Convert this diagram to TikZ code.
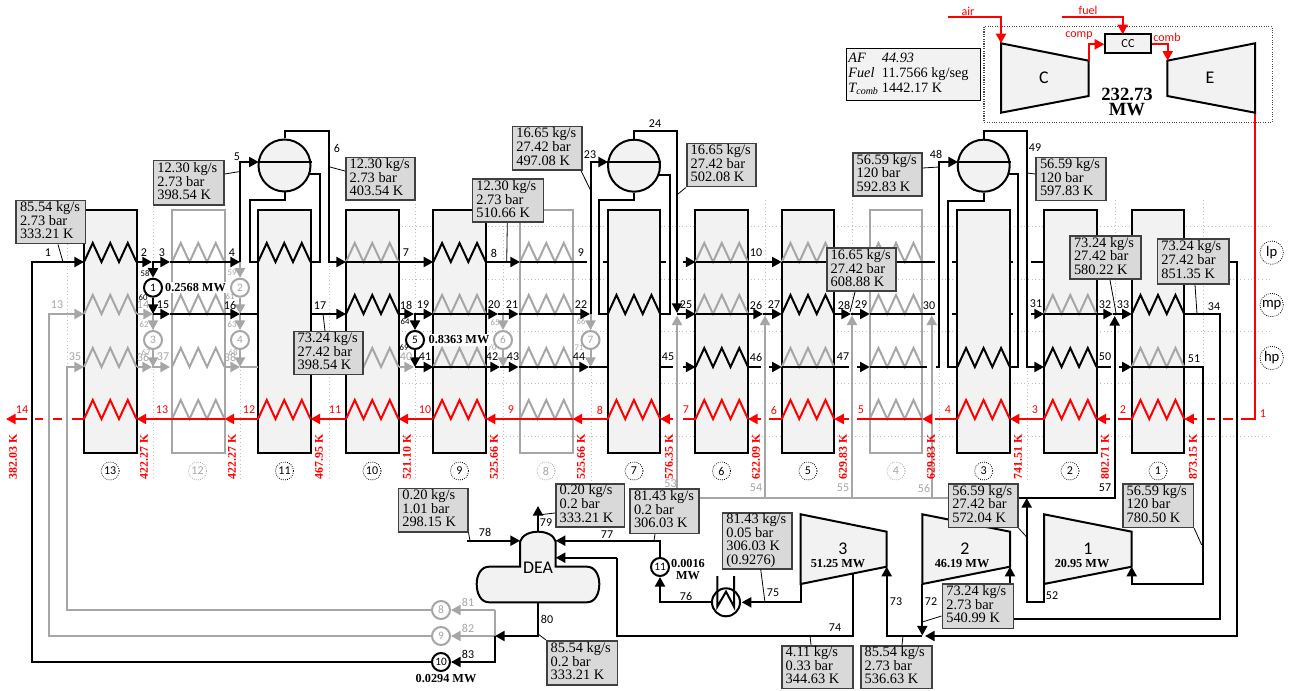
\documentclass[tikz,border=0pt]{standalone}
\usepackage{fontspec}
\setmainfont{Liberation Serif}
\newfontfamily\calf{Carlito}
\usetikzlibrary{arrows.meta,calc}
\definecolor{gry}{HTML}{A6A6A6}
\definecolor{dotg}{HTML}{BFBFBF}
\definecolor{boxf}{HTML}{F2F2F2}
\definecolor{valf}{HTML}{D9D9D9}
\definecolor{valb}{HTML}{404040}
\tikzset{
  tp/.tip={Triangle[length=7.2pt,width=7.5pt]},
  blk/.style={draw=black,line width=1.5pt,line join=miter},
  gr/.style={draw=gry,line width=1.5pt,line join=miter},
  rd/.style={draw=red,line width=1.5pt,line join=miter},
  dots/.style={draw=dotg,line width=.7pt,dotted},
  lead/.style={draw=black,line width=.6pt},
  colbox/.style={draw=black,fill=boxf,line width=1.5pt,minimum width=39.4pt,minimum height=182pt,inner sep=0pt},
  colgray/.style={draw=gry,line width=1.5pt,minimum width=39.4pt,minimum height=182pt,inner sep=0pt},
  drum/.style={circle,draw=black,fill=boxf,line width=1.5pt,minimum size=39pt,inner sep=0pt},
  pump/.style={circle,draw=black,fill=white,line width=1.5pt,minimum size=13.5pt,inner sep=0pt,font=\calf\fontsize{8.5pt}{9pt}\selectfont},
  pumpg/.style={pump,draw=gry,text=gry},
  valbox/.style={draw=valb,fill=valf,line width=1.2pt,inner sep=0pt,font=\fontsize{10.8pt}{9.75pt}\selectfont},
  lab/.style={inner sep=0pt,font=\calf\fontsize{9pt}{9pt}\selectfont},
  slab/.style={inner sep=0pt,font=\calf\fontsize{6.5pt}{7pt}\selectfont},
  temp/.style={inner sep=0pt,rotate=90,text=red,font=\bfseries\fontsize{8.9pt}{9pt}\selectfont},
  pow/.style={inner sep=0pt,align=center,font=\bfseries\fontsize{9.2pt}{9pt}\selectfont},
  circnum/.style={circle,draw=black,densely dotted,line width=.6pt,minimum size=13.5pt,inner sep=0pt,font=\calf\fontsize{9pt}{9pt}\selectfont},
  bigt/.style={inner sep=0pt,font=\calf\fontsize{13.4pt}{14pt}\selectfont},
  unit/.style={draw=black,fill=boxf,line width=1.5pt,line join=miter},
}
\newcommand\zigz[3]{\draw[#3] (#1,#2) -- ++(8.75,-19) -- ++(8.75,19) -- ++(8.75,-19) -- ++(8.75,19) -- ++(8.75,-19) -- ++(8.75,19);}
\newcommand\vb[6]{%
  \pgfmathsetmacro\vbw{(#4-#2)*0.75}%
  \pgfmathsetmacro\vbt{(#4-#2)*0.75-6}%
  \pgfmathsetmacro\vbh{(#5-#3)*0.75}%
  \node[valbox,minimum width=\vbw pt,minimum height=\vbh pt] (#1) at ({(#2+#4)/2},{(#3+#5)/2}) {\makebox[\vbt pt][l]{\begin{tabular}{@{}l@{}}#6\end{tabular}}};}
\begin{document}
\begin{tikzpicture}[x=0.75pt,y=-0.75pt]
\useasboundingbox (0,0) rectangle (1289,691);
% named anchors on the four tube rows of each section
\foreach \n/\x in {13/84,12/172,11/258,10/346,9/433.3,8/520,7/607.7,6/695.5,5/781.7,4/869.7,3/957.3,2/1044,1/1131.7}{
  \pgfmathsetmacro\xr{\x+52.5}
  \coordinate (L\n a) at (\x,262); \coordinate (R\n a) at (\xr,262);
  \coordinate (L\n b) at (\x,314); \coordinate (R\n b) at (\xr,314);
  \coordinate (L\n c) at (\x,367); \coordinate (R\n c) at (\xr,367);
  \coordinate (L\n d) at (\x,419); \coordinate (R\n d) at (\xr,419);
}
% dotted guides
\foreach \y in {226.7,279.3,331,383.3,436}{\draw[dots] (398,\y) -- (1272,\y);}
\foreach \x/\a/\b in {67/244/367,153.5/207/480,240/262/480,329/262/480,415/200/480,503/222/480,591/314/480,765/200/497,852/200/497,939/200/480,1027/367/480,1115/200/316,1203/200/367}{\draw[dots] (\x,\a) -- (\x,\b);}
% gray sections
\foreach \n/\x in {12/172,8/520,4/869.7}{
  \node[colgray] (col\n) at ({\x+26.25},331.35) {};
}
% filled sections
\foreach \n/\x in {13/84,11/258,10/346,9/433.3,7/607.7,6/695.5,5/781.7,3/957.3,2/1044,1/1131.7}{
  \node[colbox] (col\n) at ({\x+26.25},331.35) {};
}
% coils
\foreach \n/\r in {13/a,11/a,9/a, 10/b,7/b,5/b,1/b, 6/c,3/c,2/c}{\path (L\n\r); \pgfgetlastxy{\px}{\py}\pgfmathsetmacro\cx{\px/0.75}\pgfmathsetmacro\cy{-\py/0.75}\zigz{\cx}{\cy}{blk}}
\foreach \n/\r in {12/a,10/a,6/a,5/a,8/a,4/a, 13/b,12/b,9/b,8/b,6/b,4/b,2/b, 13/c,12/c,10/c,9/c,8/c,5/c,4/c,1/c, 12/d,8/d,4/d}{\path (L\n\r); \pgfgetlastxy{\px}{\py}\pgfmathsetmacro\cx{\px/0.75}\pgfmathsetmacro\cy{-\py/0.75}\zigz{\cx}{\cy}{gr}}
\foreach \n in {13,11,10,9,7,6,5,3,2,1}{\path (L\n d); \pgfgetlastxy{\px}{\py}\pgfmathsetmacro\cx{\px/0.75}\pgfmathsetmacro\cy{-\py/0.75}\zigz{\cx}{\cy}{rd}}
% drums and pumps
\node[drum] (d1) at (284.5,165.5) {};
\node[drum] (d2) at (634,165.7) {};
\node[drum] (d3) at (983.7,165.7) {};
\foreach \d in {d1,d2,d3}{\draw[blk] (\d.west |- 0,162) -- (\d.east |- 0,162);}
\node[pump] (p1) at (153,287.7) {1};
\node[pumpg] (p2) at (240,287.7) {2};
\node[pumpg] (p3) at (153,340) {3};
\node[pumpg] (p4) at (240,340) {4};
\node[pump] (p5) at (415,340) {5};
\node[pumpg] (p6) at (503,340) {6};
\node[pumpg] (p7) at (590.5,340) {7};
\node[pumpg] (p8) at (441,610) {8};
\node[pumpg] (p9) at (441,636) {9};
\node[pump] (p10) at (441,662) {10};
\node[pump] (p11) at (660,567) {11};
% gray connectors
\draw[gr,-{tp}] (p8.west) -- (67,610) -- (67,367) -- (L13c);
\draw[gr,-{tp}] (p9.west) -- (49,636) -- (49,314) -- (L13b);
\draw[gr,-{tp}] (R13b) -- (153,314);
\draw[gr,-{tp}] (R13c) -- (152,367);
\draw[gr,-{tp}] (152,367) -- (170,367);
\draw[gr,-{tp}] (R12c) -- (240,367);
\draw[gr] (240,367) -- (L11c);
\draw[gr] (R11c) -- (L10c);
\draw[gr,-{tp}] (R10c) -- (414,367);
\draw[gr,-{tp}] (153,314) -- (p3.north);
\draw[gr,-{tp}] (p3.south) -- (153,367);
\draw[gr,-{tp}] (240,262) -- (p2.north);
\draw[gr,-{tp}] (p2.south) -- (240,314);
\draw[gr,-{tp}] (240,314) -- (p4.north);
\draw[gr,-{tp}] (p4.south) -- (240,367);
\draw[gr,-{tp}] (503,314) -- (p6.north);
\draw[gr,-{tp}] (p6.south) -- (503,367);
\draw[gr,-{tp}] (590.5,314) -- (p7.north);
\draw[gr,-{tp}] (p7.south) -- (590.5,367);
\draw[gr] (948,497.7) -- (677,497.7);
\draw[gr,-{tp}] (677,497.7) -- (677,315.5);
\draw[gr,-{tp}] (765,497.7) -- (765,315.5);
\draw[gr,-{tp}] (852,497.7) -- (852,315.5);
\draw[gr,-{tp}] (931.7,497.7) -- (931.7,315.5);
\draw[gr,-{tp}] (494.5,610) -- (p8.east);
\draw[gr,-{tp}] (494.5,636) -- (p9.east);
\draw[gr] (494.5,610) -- (494.5,636);
% lp row
\draw[blk,-{tp}] (p10.west) -- (32,662) -- (32,262) -- (L13a);
\draw[blk,-{tp}] (R13a) -- (152,262);
\draw[blk,-{tp}] (152,262) -- (170,262);
\draw[blk,-{tp}] (170,262) -- (240,262);
\draw[blk,-{tp}] (240,262) -- (240,162) -- (258.7,162);
\draw[blk,-{tp}] (d1.north) -- (284.5,131.5) -- (329,131.5) -- (329,262) -- (L10a);
\draw[blk] (d1.south) -- (284.5,200) -- (250,200) -- (250,262) -- (L11a);
\draw[blk] (309,174) -- (320,174) -- (320,262) -- (R11a);
\draw[blk] (L10a) -- (R10a);
\draw[blk,-{tp}] (R10a) -- (L9a);
\draw[blk,-{tp}] (R9a) -- (L8a);
\draw[blk] (L8a) -- (587,262);
\draw[blk] (602.7,262) -- (L7a);
\draw[blk] (R7a) -- (665.7,262);
\draw[blk,-{tp}] (683,262) -- (L6a);
\draw[blk,-{tp}] (L6a) -- (L5a);
\draw[blk] (L5a) -- (935,262);
\draw[blk] (952,262) -- (L3a);
\draw[blk] (R3a) -- (1013,262);
\draw[blk] (1030.7,262) -- (L2a);
\draw[blk,-{tp}] (R1a) -- (1237,262) -- (1237,636) -- (925,636);
% mp row
\draw[blk,-{tp}] (153,262) -- (p1.north);
\draw[blk,-{tp}] (p1.south) -- (153,314);
\draw[blk,-{tp}] (153,314) -- (170,314);
\draw[blk,-{tp}] (170,314) -- (240,314);
\draw[blk] (240,314) -- (L11b);
\draw[blk,-{tp}] (R11b) -- (L10b);
\draw[blk,-{tp}] (R10b) -- (414,314);
\draw[blk,-{tp}] (414,314) -- (L9b);
\draw[blk,-{tp}] (L9b) -- (498,314);
\draw[blk,-{tp}] (498,314) -- (518.5,314);
\draw[blk,-{tp}] (518.5,314) -- (590,314);
\draw[blk,-{tp}] (591,314) -- (591,162) -- (608,162);
\draw[blk,-{tp}] (d2.north) -- (634,131.5) -- (677,131.5) -- (677,313);
\draw[blk] (d2.south) -- (634,200) -- (598.7,200) -- (598.7,314) -- (L7b);
\draw[blk] (658.5,175) -- (669.7,175) -- (669.7,314) -- (R7b);
\draw[blk,-{tp}] (677,314) -- (L6b);
\draw[blk,-{tp}] (L6b) -- (763,314);
\draw[blk,-{tp}] (763,314) -- (L5b);
\draw[blk,-{tp}] (R5b) -- (851,314);
\draw[blk,-{tp}] (851,314) -- (L4b);
\draw[blk] (L4b) -- (935,314);
\draw[blk] (952,314) -- (L3b);
\draw[blk] (R3b) -- (1013,314);
\draw[blk,-{tp}] (1030.7,314) -- (L2b);
\draw[blk,-{tp}] (L2b) -- (1113,314);
\draw[blk,-{tp}] (1113,314) -- (L1b);
\draw[blk,-{tp}] (R1b) -- (1219.5,314) -- (1219.5,619) -- (1010,619) -- (1010,566.7);
% hp row
\draw[blk,-{tp}] (415,314) -- (p5.north);
\draw[blk,-{tp}] (p5.south) -- (415,367);
\draw[blk,-{tp}] (415,367) -- (L9c);
\draw[blk,-{tp}] (L9c) -- (500,367);
\draw[blk,-{tp}] (500,367) -- (518.5,367);
\draw[blk,-{tp}] (518.5,367) -- (589,367);
\draw[blk] (589,367) -- (L7c);
\draw[blk] (R7c) -- (673,367);
\draw[blk,-{tp}] (683,367) -- (L6c);
\draw[blk] (R6c) -- (761,367);
\draw[blk,-{tp}] (769,367) -- (L5c);
\draw[blk] (L5c) -- (849,367);
\draw[blk,-{tp}] (857,367) -- (L4c);
\draw[blk] (L4c) -- (927,367);
\draw[blk,-{tp}] (935.7,367) -- (939,367) -- (939,162) -- (958,162);
\draw[blk,-{tp}] (d3.north) -- (983.7,131.5) -- (1026.7,131.5) -- (1026.7,367) -- (L2c);
\draw[blk] (d3.south) -- (983.7,200.7) -- (948.3,200.7) -- (948.3,367) -- (L3c);
\draw[blk] (1008.5,174) -- (1017.7,174) -- (1017.7,367) -- (R3c);
\draw[blk] (R2c) -- (1110.7,367);
\draw[blk,-{tp}] (1119,367) -- (L1c);
\draw[blk,-{tp}] (L1c) -- (1202.7,367) -- (1202.7,584) -- (1131.7,584) -- (1131.7,566.7);
% red row
\draw[rd] (1255,112.7) -- (1255,419) -- (1240.7,419);
\draw[rd] (1233,419) -- (1223,419);
\draw[rd] (1215,419) -- (1206.7,419);
\draw[rd,-{tp}] (1197,419) -- (R1d);
\draw[rd] (L1d) -- (1118,419);
\draw[rd,-{tp}] (1110,419) -- (R2d);
\draw[rd,-{tp}] (L2d) -- (R3d);
\draw[rd] (L3d) -- (935,419);
\draw[rd,-{tp}] (931,419) -- (R4d);
\draw[rd] (R4d) -- (857,419);
\draw[rd,-{tp}] (849,419) -- (R5d);
\draw[rd] (L5d) -- (769,419);
\draw[rd,-{tp}] (761,419) -- (R6d);
\draw[rd] (L6d) -- (683,419);
\draw[rd,-{tp}] (673,419) -- (R7d);
\draw[rd,-{tp}] (L7d) -- (R8d);
\draw[rd,-{tp}] (R8d) -- (R9d);
\draw[rd,-{tp}] (L9d) -- (R10d);
\draw[rd,-{tp}] (L10d) -- (R11d);
\draw[rd,-{tp}] (L11d) -- (R12d);
\draw[rd,-{tp}] (R12d) -- (R13d);
\draw[rd] (L13d) -- (72,419);
\draw[rd] (62,419) -- (53,419);
\draw[rd] (43,419) -- (35,419);
\draw[rd,-{tp}] (27,419) -- (6,419);
% DEA
\draw[unit] (520,566.7) -- (520,541.7) .. controls (522,535) and (530,531.7) .. (538,531.7) .. controls (546,531.7) and (554,535) .. (555.7,541.7) -- (555.7,566.7) -- (587,566.7) .. controls (595,566.7) and (599.3,575) .. (599.3,584) .. controls (599.3,594) and (595,602.3) .. (587,602.3) -- (489,602.3) .. controls (481,602.3) and (476.7,594) .. (476.7,584) .. controls (476.7,575) and (481,566.7) .. (489,566.7) -- cycle;
\node[bigt] (dea) at (538,568) {DEA};
\coordinate (deaT) at (538,531.7);
\coordinate (deaB) at (538,602.3);
\draw[blk,-{tp}] (deaT) -- (538,506);
\draw[blk,-{tp}] (467,540.7) -- (520,540.7);
\draw[blk,-{tp}] (p11.north) -- (660,540.7) -- (555.7,540.7);
\draw[blk,-{tp}] (deaB) -- (538,636) -- (495,636);
\draw[blk,-{tp}] (494.5,636) -- (494.5,662) -- (p10.east);
% condenser
\node[circle,draw=black,fill=white,line width=1.5pt,minimum size=21pt,inner sep=0pt] (cond) at (726,602.3) {};
\draw[blk] (717.3,576) -- (717.3,606.7) -- (726,591.7) -- (734,606.7) -- (734,576);
\draw[blk,-{tp}] (cond.west) -- (660,602.3) -- (p11.south);
% turbines
\draw[unit] (800.7,514.3) -- (886.7,531.7) -- (886.7,566.7) -- (800.7,584) -- cycle;
\draw[unit] (922.3,514.3) -- (1010,531.7) -- (1010,566.7) -- (922.3,584) -- cycle;
\draw[unit] (1044,514.3) -- (1131.7,531.7) -- (1131.7,566.7) -- (1044,584) -- cycle;
\node[bigt] (t3n) at (843,549) {3};
\node[bigt] (t2n) at (965,549) {2};
\node[bigt] (t1n) at (1088,549) {1};
\node[pow] (t3p) at (838,564) {51.25 MW};
\node[pow] (t2p) at (962,564) {46.19 MW};
\node[pow] (t1p) at (1082,564) {20.95 MW};
\draw[blk,-{tp}] (800.7,584) -- (800.7,602.3) -- (741.7,602.3);
\draw[blk] (852.7,574) -- (852.7,636) -- (617.3,636) -- (617.3,557.7);
\draw[blk,-{tp}] (617.3,557.7) -- (555.7,557.7);
\draw[blk,-{tp}] (922.3,636) -- (886.7,636) -- (886.7,566.7);
\draw[blk,-{tp}] (922.3,584) -- (922.3,635.5);
\draw[blk,-{tp}] (1044,584) -- (1044,602.3) -- (1026.7,602.3) -- (1026.7,498);
\draw[blk,-{tp}] (1017,497.7) -- (1114.7,497.7) -- (1114.7,316);
% gas turbine
\draw[draw=black!70,line width=.8pt,densely dotted] (984,26.7) rectangle (1272.3,122.3);
\draw[unit] (1001,43.3) -- (1088.7,60.7) -- (1088.7,96) -- (1001,112.7) -- cycle;
\draw[unit] (1167.3,60.7) -- (1255,43.3) -- (1255,112.7) -- (1167.3,96) -- cycle;
\node[draw=black,fill=boxf,line width=1.5pt,minimum width=34pt,minimum height=13.8pt,inner sep=0pt,font=\calf\fontsize{9.2pt}{9pt}\selectfont] (cc) at (1128,43.5) {CC};
\node[bigt] (cn) at (1044,78) {C};
\node[bigt] (en) at (1210,78) {E};
\draw[rd,-{tp}] (947.7,17.3) -- (1001,17.3) -- (1001,43.3);
\draw[rd,-{tp}] (1061.7,17.3) -- (1122.7,17.3) -- (1122.7,34.3);
\draw[rd,-{tp}] (1088.7,60.7) -- (1088.7,44.3) -- (cc.west |- 0,44.3);
\draw[rd,-{tp}] (cc.east |- 0,44.3) -- (1167.7,44.3) -- (1167.7,60.7);
\foreach \x/\y/\t in {968/11/air,1088/10/fuel,1079/36/comp,1167/37/comb}{\node[lab,text=red] (g\t) at (\x,\y) {\t};}
\node[pow,font=\bfseries\fontsize{14pt}{11.8pt}\selectfont] (gtp) at (1127,102) {232.73\\MW};
\node[draw=black,fill=boxf,line width=.8pt,minimum width=100.5pt,minimum height=39.3pt,inner sep=0pt,font=\fontsize{10.7pt}{11pt}\selectfont] (afb) at (913.7,74.5) {\makebox[98pt][l]{\begin{tabular}{@{}l@{\hspace{3pt}}l@{}}\itshape AF&\itshape 44.93\\\itshape Fuel&11.7566 kg/seg\\\itshape T\raisebox{-1.5pt}{\fontsize{7.5pt}{8pt}\selectfont comb}&1442.17 K\end{tabular}}};
% number labels
\foreach \x/\y/\t in {48/253/1,144/253/2,162/253/3,232/253/4,237/157/5,337/148/6,406/253/7,163/305/15,230/305/16,320/306/17,406/305/18,423/305/19,425/357/41,494/253/8,581/253/9,756/253/10,494/305/20,512/305/21,581/305/22,686/305/25,756/305/26,774/305/27,492/357/42,513/357/43,579/357/44,668/357/45,756/357/46,590/155/23,655/124/24,844/305/28,861/305/29,929/306/30,1036/304/31,1105/305/32,1123/305/33,1214/307/34,843/357/47,1105/357/50,1194/359/51,936/154/48,1035/148/49,1105/488/57,485/532/78,546/523/79,547/619/80,468/654/83,607/535/77,686/596/76,773/593/75,1052/596/52,835/628/74,896/602/73,931/602/72}{\node[lab] (n\t) at (\x,\y) {\t};}
\foreach \x/\y/\t in {57/305/13,143/305/14,75/357/35,143/357/36,163/357/37,230/357/38,406/357/40,670.5/484/53,756/488/54,843/488/55,924/488/56,468/602/81,468/628/82}{\node[lab,text=gry] (m\t) at (\x,\y) {\t};}
\foreach \x/\t in {22/14,162/13,249/12,335/11,425/10,511/9,600/8,686/7,774/6,861/5,948/4,1035/3,1123/2}{\node[lab,text=red] (r\t) at (\x,410) {\t};}
\node[lab,text=red] (r1) at (1263,414) {1};
\foreach \x/\y/\t in {145/274/58,143/298/60,405/322/64,404/348/69}{\node[slab] (s\t) at (\x,\y) {\t};}
\foreach \x/\y/\t in {144/325/62,146/353/67,232/273/59,230/297/61,232/325/63,233/353/68,495/323/65,492/348/70,581/322/66,579/348/71}{\node[slab,text=gry] (s\t) at (\x,\y) {\t};}
% temperatures
\foreach \x/\t in {13/382.03,144/422.27,232/422.27,319/467.95,407/521.10,494/525.66,581/525.66,669/576.35,756/622.09,843/629.83,931/629.83,1018/741.51,1105/802.71,1193/873.15}{\node[temp] (tm\x) at (\x,456.7) {\t{} K};}
% section tags
\foreach \n/\x in {13/110.2,11/284.5,10/372,9/459.5,7/634,6/721.5,5/808,3/983.7,2/1070,1/1158}{\node[circnum] (tag\n) at (\x,471) {\n};}
\foreach \n/\x in {12/197.5,8/546,4/896}{\node[circnum,draw=gry,text=gry] (tag\n) at (\x,471) {\n};}
\foreach \t/\y in {lp/252.7,mp/305,hp/358}{\node[circle,draw=black,densely dotted,line width=.6pt,minimum size=17.5pt,inner sep=0pt,font=\calf\fontsize{11pt}{11pt}\selectfont] (\t) at (1271.7,\y) {\t};}
% power labels
\node[pow,fill=white,inner xsep=1pt,inner ysep=1pt] (pw1) at (195.5,287.5) {0.2568 MW};
\node[pow,fill=white,inner xsep=1pt,inner ysep=1pt] (pw5) at (459,340) {0.8363 MW};
\node[pow] (pw10) at (446,679) {0.0294 MW};
\node[pow] (pw11) at (688,569.5) {0.0016\\MW};
% value boxes
\vb{A}{16}{200.7}{85.3}{243.7}{85.54 kg/s\\2.73 bar\\333.21 K}
\vb{B}{153.3}{160.7}{224}{205.3}{12.30 kg/s\\2.73 bar\\398.54 K}
\vb{C}{345.7}{157.7}{415}{200.3}{12.30 kg/s\\2.73 bar\\403.54 K}
\vb{D}{293.7}{331.7}{362.7}{374.7}{73.24 kg/s\\27.42 bar\\398.54 K}
\vb{E}{472.3}{179.3}{543.3}{222.3}{12.30 kg/s\\2.73 bar\\510.66 K}
\vb{F}{512.3}{126.7}{581.7}{170}{16.65 kg/s\\27.42 bar\\497.08 K}
\vb{G}{686.7}{143.7}{755.7}{186.7}{16.65 kg/s\\27.42 bar\\502.08 K}
\vb{H}{852.7}{153.3}{922}{196}{56.59 kg/s\\120 bar\\592.83 K}
\vb{I}{1036}{157.7}{1105.7}{200.7}{56.59 kg/s\\120 bar\\597.83 K}
\vb{J}{826.7}{248.3}{896}{291.3}{16.65 kg/s\\27.42 bar\\608.88 K}
\vb{K}{1070}{236}{1141}{279.3}{73.24 kg/s\\27.42 bar\\580.22 K}
\vb{Lx}{1157.3}{239}{1228.7}{284}{73.24 kg/s\\27.42 bar\\851.35 K}
\vb{M}{398.3}{488.3}{467.7}{531.7}{0.20 kg/s\\1.01 bar\\298.15 K}
\vb{N}{555.7}{484}{624.3}{527}{0.20 kg/s\\0.2 bar\\333.21 K}
\vb{O}{630}{488.7}{699}{533.3}{81.43 kg/s\\0.2 bar\\306.03 K}
\vb{P}{722.3}{512.7}{791.7}{568.7}{81.43 kg/s\\0.05 bar\\306.03 K\\(0.9276)}
\vb{Q}{546.7}{640.7}{617.3}{685}{85.54 kg/s\\0.2 bar\\333.21 K}
\vb{Rx}{781.7}{645.7}{852.7}{688.3}{4.11 kg/s\\0.33 bar\\344.63 K}
\vb{S}{860.7}{645.7}{931.7}{688.3}{85.54 kg/s\\2.73 bar\\536.63 K}
\vb{T}{942.3}{584}{1013.3}{628.3}{73.24 kg/s\\2.73 bar\\540.99 K}
\vb{U}{948.3}{484}{1017.7}{527.3}{56.59 kg/s\\27.42 bar\\572.04 K}
\vb{V}{1122.7}{484}{1193.3}{527.3}{56.59 kg/s\\120 bar\\780.50 K}
% leaders
\draw[lead] (A.south -| 58,0) -- (63,262);
\draw[lead] (B.east |- 0,174) -- (240,171.5);
\draw[lead] (C.west |- 0,171) -- (330,167);
\draw[lead] (D.north -| 325,0) -- (323,314);
\draw[lead] (E.south -| 507.3,0) -- (506.7,262);
\draw[lead] (F.south -| 581,0) -- (591,191);
\draw[lead] (G.south west) -- (678,194);
\draw[lead] (H.east |- 0,168) -- (939,167);
\draw[lead] (I.west |- 0,174) -- (1027,173);
\draw[lead] (J.south -| 855,0) -- (850,312);
\draw[lead] (K.south -| 1110,0) -- (1116,313);
\draw[lead] (Lx.south -| 1195,0) -- (1197,314);
\draw[lead] (M.south east) -- (470,540.7);
\draw[lead] (N.west |- 0,513) -- (538,515);
\draw[lead] (O.south -| 655,0) -- (654,540.7);
\draw[lead] (P.south -| 760.7,0) -- (765,602.3);
\draw[lead] (Q.north west) -- (538,634);
\draw[lead] (Rx.north -| 811,0) -- (810,636);
\draw[lead] (S.north -| 902,0) -- (903,636);
\draw[lead] (T.west |- 0,616) -- (922.3,622);
\draw[lead] (U.south east) -- (1026.7,537);
\draw[lead] (V.south east) -- (1201.7,545);
\end{tikzpicture}
\end{document}
